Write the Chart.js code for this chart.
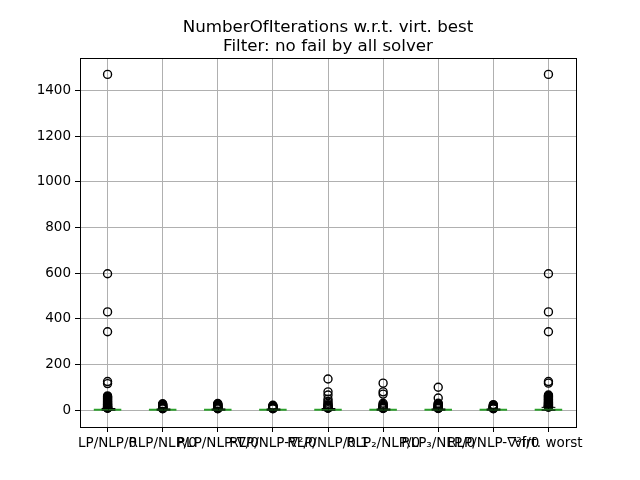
<!DOCTYPE html>
<html>
<head>
<meta charset="utf-8">
<script src="https://cdn.jsdelivr.net/npm/chart.js@4.4.1/dist/chart.umd.min.js"></script>
<style>
  html, body { margin: 0; padding: 0; background: #fff; }
  #wrap { width: 640px; height: 480px; }
</style>
</head>
<body>
<div id="wrap"><canvas id="boxChart"></canvas></div>
<script>
// categories (solver labels, they overlap in the original too)
const categories = ['LP/NLP/0', 'RLP/NLP/0', 'RLP/NLP-∇/0', 'RLP/NLP-∇²/0', 'RLP/NLP/0.1',
                    'RLP₂/NLP/0', 'RLP₃/NLP/0', 'RLP/NLP-∇²f/0', 'virt. worst'];

// box statistics
const q1Values      = [0, 0, 0, 0, 0, 0, 0, 0, 0];
const medianValues  = [1, 1, 1, 1, 1, 1, 1, 1, 2];
const q3Values      = [3, 2, 2, 2, 3, 2, 2, 2, 5];
const whiskerLow    = [0, 0, 0, 0, 0, 0, 0, 0, 0];
const whiskerHigh   = [7, 5, 5, 5, 7, 5, 5, 5, 12];

// outliers per category
const outliers = [
  [1470, 597, 430, 343, 125, 116, 62, 59, 56, 53, 50, 47, 44, 41, 38, 35, 33, 30, 28, 26, 24, 22, 20, 18, 17, 15, 14, 13, 12, 11, 10, 9, 8],
  [28, 25, 23, 21, 19, 17, 15, 14, 13, 12, 11, 10, 9, 8, 7, 6],
  [29, 26, 24, 22, 20, 18, 16, 14, 13, 12, 11, 10, 9, 8, 7, 6],
  [21, 19, 17, 15, 14, 13, 12, 11, 10, 9, 8, 7, 6],
  [136, 80, 66, 48, 38, 30, 24, 20, 16, 14, 12, 10, 9, 8],
  [118, 80, 70, 30, 25, 21, 18, 16, 14, 12, 11, 10, 9, 8, 7],
  [100, 53, 30, 27, 24, 21, 19, 17, 15, 13, 12, 11, 10, 9, 8, 7],
  [24, 21, 19, 17, 15, 14, 13, 12, 11, 10, 9, 8, 7, 6],
  [1470, 597, 430, 343, 125, 118, 66, 63, 60, 57, 54, 51, 48, 45, 42, 39, 36, 33, 31, 29, 27, 25, 23, 21, 19, 18, 17, 16, 15, 14, 13]
];

const yTicks = [0, 200, 400, 600, 800, 1000, 1200, 1400];

const FONT = 'DejaVu Sans';

const outlierPoints = [];
outliers.forEach((list, i) => {
  list.forEach(v => outlierPoints.push({ x: categories[i], y: v }));
});

// whiskers, caps and axes frame, drawn through the chart's scales
const boxExtras = {
  id: 'boxExtras',
  afterDatasetsDraw(chart) {
    const ctx = chart.ctx;
    const xs = chart.scales.x, ys = chart.scales.y;
    const capHalf = xs.width / categories.length * 0.5 / 4;
    ctx.save();
    ctx.strokeStyle = '#000';
    ctx.lineWidth = 1;
    categories.forEach((c, i) => {
      const x = Math.round(xs.getPixelForValue(i)) + 0.5;
      const yLo = ys.getPixelForValue(whiskerLow[i]);
      const yHi = ys.getPixelForValue(whiskerHigh[i]);
      const yQ1 = ys.getPixelForValue(q1Values[i]);
      const yQ3 = ys.getPixelForValue(q3Values[i]);
      ctx.beginPath();
      ctx.moveTo(x, yQ3); ctx.lineTo(x, yHi);
      ctx.moveTo(x, yQ1); ctx.lineTo(x, yLo);
      ctx.moveTo(x - capHalf, yHi); ctx.lineTo(x + capHalf, yHi);
      ctx.moveTo(x - capHalf, yLo); ctx.lineTo(x + capHalf, yLo);
      ctx.stroke();
    });
    const a = chart.chartArea;
    ctx.strokeRect(Math.round(a.left) + 0.5, Math.round(a.top) + 0.5,
                   Math.round(a.right - a.left), Math.round(a.bottom - a.top));
    ctx.restore();
  }
};

new Chart(document.getElementById('boxChart'), {
  type: 'bar',
  data: {
    labels: categories,
    datasets: [
      {
        label: 'box',
        data: categories.map((c, i) => [q1Values[i], q3Values[i]]),
        backgroundColor: 'rgba(0,0,0,0)',
        borderColor: '#1f77b4',
        borderWidth: 1,
        borderSkipped: false,
        categoryPercentage: 1,
        barPercentage: 0.5,
        order: 3
      },
      {
        type: 'line',
        label: 'median',
        data: medianValues,
        showLine: false,
        pointStyle: 'line',
        pointRadius: 13.75,
        pointBorderColor: '#2ca02c',
        pointBorderWidth: 2,
        order: 1
      },
      {
        type: 'line',
        label: 'outliers',
        data: outlierPoints,
        showLine: false,
        pointStyle: 'circle',
        pointRadius: 4,
        pointBorderColor: '#000',
        pointBackgroundColor: 'rgba(0,0,0,0)',
        pointBorderWidth: 1.4,
        order: 2
      }
    ]
  },
  options: {
    responsive: true,
    maintainAspectRatio: false,
    animation: false,
    events: [],
    layout: { padding: { left: 0, right: 64, top: 0, bottom: 0 } },
    plugins: {
      legend: { display: false },
      tooltip: { enabled: false },
      title: {
        display: true,
        fullSize: false, // centre the title over the axes, like matplotlib
        text: ['NumberOfIterations w.r.t. virt. best', 'Filter: no fail by all solver'],
        color: '#000',
        font: { family: FONT, size: 16.7, weight: 'normal', lineHeight: 1.15 },
        padding: { top: 18, bottom: 2 }
      }
    },
    scales: {
      x: {
        grid: { offset: false, color: '#b0b0b0', tickColor: '#000', tickLength: 5, drawTicks: true },
        border: { color: '#000' },
        ticks: {
          color: '#000', font: { family: FONT, size: 13.5 },
          maxRotation: 0, minRotation: 0, autoSkip: false, padding: 3
        },
        afterFit(scale) { scale.height = 53; }
      },
      y: {
        min: -74,
        max: 1540,
        grid: { color: '#b0b0b0', tickColor: '#000', tickLength: 5 },
        border: { color: '#000' },
        ticks: {
          color: '#000', font: { family: FONT, size: 13.5 }, padding: 4,
          callback: v => String(v)
        },
        afterBuildTicks(scale) { scale.ticks = yTicks.map(v => ({ value: v })); },
        afterFit(scale) { scale.width = 80; }
      }
    }
  },
  plugins: [boxExtras]
});
</script>
</body>
</html>
